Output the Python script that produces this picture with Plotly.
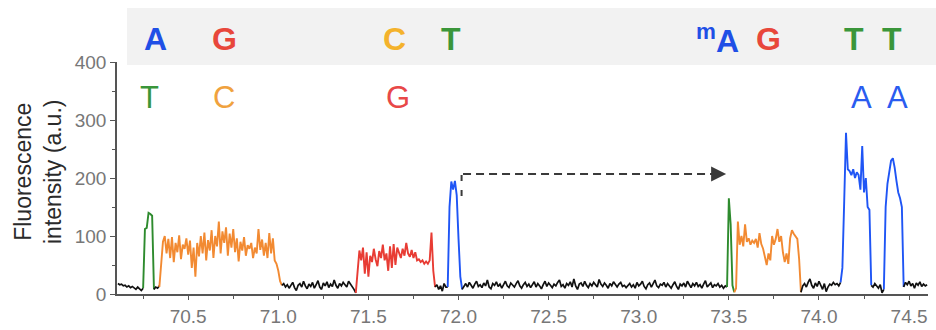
import plotly.graph_objects as go

DT = 0.01  # sampling interval of the trace (s)

# ---- trace segments: (start time, values) ----
black1_t0 = 70.11
black1 = [18, 16, 17, 14, 15, 12, 14, 11, 13, 10, 8, 12, 9, 6, 10]
green1_t0 = 70.25
green1 = [10, 112, 114, 140, 138, 135, 8]
black2_t0 = 70.31
black2 = [8, 12, 10, 14]
orange1_t0 = 70.34
orange1 = [12, 45, 90, 100, 70, 95, 62, 98, 55, 88,
           72, 101, 60, 85, 78, 96, 68, 92, 45, 80,
           30, 88, 65, 100, 70, 106, 58, 93, 75, 110,
           62, 100, 82, 125, 70, 108, 88, 115, 66, 104,
           80, 112, 72, 96, 56, 90, 75, 98, 66, 84,
           78, 88, 62, 80, 70, 112, 76, 94, 66, 88,
           62, 105, 70, 96, 58, 52, 40, 22, 15]
black3_t0 = 71.02
black3 = [15, 18, 12, 16, 10, 14, 20, 11, 6, 15,
          18, 12, 22, 14, 9, 17, 13, 20, 10, 16,
          23, 12, 8, 19, 14, 21, 11, 17, 13, 24,
          15, 10, 18, 14, 20, 16, 12, 22, 18, 14,
          8, 2]
red1_t0 = 71.43
red1 = [2, 45, 75, 58, 80, 35, 72, 30, 66, 55,
        78, 60, 48, 74, 62, 85, 58, 70, 40, 82,
        45, 86, 50, 80, 72, 62, 78, 66, 88, 70,
        64, 76, 62, 72, 58, 60, 55, 58, 52, 56,
        52, 58, 106, 40, 12]
black4_t0 = 71.87
black4 = [12, 16, 8, 14, 5, 18, 12, 12]
blue1_t0 = 71.94
blue1 = [12, 150, 194, 180, 195, 170, 95, 30, 8]
black5_t0 = 72.02
black5 = [8, 14, 18, 12, 20, 15, 10, 17, 22, 13,
          16, 11, 19, 14, 24, 12, 9, 18, 15, 21,
          13, 17, 10, 16, 22, 14, 11, 19, 15, 12,
          18, 23, 14, 10, 16, 20, 13, 17, 11, 15,
          21, 12, 18, 14, 9, 16, 22, 13, 19, 15,
          11, 17, 14, 20, 24, 13, 16, 10, 18, 15,
          21, 12, 26, 14, 8, 17, 19, 13, 22, 15,
          11, 18, 14, 20, 16, 12, 25, 17, 13, 19,
          15, 10, 18, 14, 21, 16, 12, 17, 20, 13,
          15, 11, 14, 18, 12, 16, 10, 20, 14, 17,
          22, 13, 9, 16, 19, 12, 18, 24, 14, 11,
          17, 15, 20, 12, 18, 14, 10, 16, 21, 13,
          8, 17, 14, 19, 12, 22, 15, 11, 18, 14,
          20, 13, 16, 10, 17, 23, 12, 15, 19, 11,
          16, 14, 18, 12, 15, 10, 14, 12]
green2_t0 = 73.49
green2 = [12, 165, 120, 15, 3]
orange2_t0 = 73.53
orange2 = [3, 10, 125, 85, 100, 82, 120, 90, 96, 85,
           92, 88, 95, 80, 105, 86, 78, 62, 50, 70,
           58, 100, 85, 95, 112, 90, 100, 72, 55, 70,
           52, 96, 110, 104, 100, 95, 60, 3]
black6_t0 = 73.90
black6 = [3, 14, 18, 12, 20, 26, 15, 10, 19, 13,
          22, 14, 8, 18, 4, 12, 17, 15, 20, 16,
          18, 14, 20]
blue2_t0 = 74.12
blue2 = [20, 45, 160, 278, 215, 212, 205, 215, 200, 210,
         205, 180, 255, 175, 200, 150, 145, 15]
black7_t0 = 74.29
black7 = [15, 12, 18, 14, 10, 16, 2, 8]
blue3_t0 = 74.36
blue3 = [8, 150, 190, 215, 230, 234, 218, 195, 175, 165, 150, 12]
black8_t0 = 74.47
black8 = [12, 20, 16, 22, 14, 18, 10, 19, 15, 21, 13, 17, 14, 16]

# ---- base-call labels ----
top_labels = ["A", "G", "C", "T", "<sup>m</sup>A", "G", "T", "T"]
top_times = [70.321, 70.699, 71.642, 71.958, 73.438, 73.718, 74.195, 74.406]
top_colors = ["#1f4fe6", "#e8473b", "#f4b22c", "#3a963a", "#1f4fe6", "#e8473b", "#3a963a", "#3a963a"]
bottom_labels = ["T", "C", "G", "A", "A"]
bottom_times = [70.283, 70.699, 71.664, 74.234, 74.434]
bottom_colors = ["#3a963a", "#f0a23e", "#e84848", "#2a5cf0", "#2a5cf0"]

# dwell arrow (start time, end time, level)
arrow_t = [72.017, 73.485]
arrow_level = 207

COL = {"black": "#111111", "green": "#2e8b2e", "orange": "#f28a32",
       "red": "#e83c34", "blue": "#1f55f5"}

segments = [
    ("black", black1_t0, black1), ("green", green1_t0, green1),
    ("black", black2_t0, black2), ("orange", orange1_t0, orange1),
    ("black", black3_t0, black3), ("red", red1_t0, red1),
    ("black", black4_t0, black4), ("blue", blue1_t0, blue1),
    ("black", black5_t0, black5), ("green", green2_t0, green2),
    ("orange", orange2_t0, orange2), ("black", black6_t0, black6),
    ("blue", blue2_t0, blue2), ("black", black7_t0, black7),
    ("blue", blue3_t0, blue3), ("black", black8_t0, black8),
]

fig = go.Figure()
for name, t0, vals in segments:
    xs = [round(t0 + i * DT, 4) for i in range(len(vals))]
    fig.add_trace(go.Scatter(
        x=xs, y=vals, mode="lines",
        line=dict(color=COL[name], width=1.9 if name != "black" else 1.7),
        hoverinfo="skip", showlegend=False))

PX_L, PX_R, PX_T, PX_B = 117, 8, 62, 36
W, H = 936, 330
pw = W - PX_L - PX_R
ph = H - PX_T - PX_B


def py(pixel_y):
    return (H - PX_B - pixel_y) / ph


def px(pixel_x):
    return (pixel_x - PX_L) / pw


shapes = [
    dict(type="rect", xref="paper", yref="paper", x0=px(127), x1=px(940),
         y0=py(65), y1=py(8), fillcolor="#f2f2f2", line=dict(width=0), layer="below"),
    dict(type="line", xref="x", yref="y", x0=arrow_t[0] + 0.008, x1=arrow_t[1] - 0.075,
         y0=arrow_level, y1=arrow_level, line=dict(color="#3a3a3a", width=2, dash="8px,5px")),
    dict(type="line", xref="x", yref="y", x0=arrow_t[0], x1=arrow_t[0],
         y0=arrow_level - 38, y1=arrow_level + 12, line=dict(color="#3a3a3a", width=2, dash="6px,9px")),
]

annotations = []
for lab, t, c in zip(top_labels, top_times, top_colors):
    annotations.append(dict(x=t, y=py(39), xref="x", yref="paper", text="<b>%s</b>" % lab,
                            showarrow=False, font=dict(size=32, color=c, family="Liberation Sans, Arial"),
                            xanchor="center", yanchor="middle"))
for lab, t, c in zip(bottom_labels, bottom_times, bottom_colors):
    annotations.append(dict(x=t, y=py(97), xref="x", yref="paper", text=lab,
                            showarrow=False, font=dict(size=31, color=c, family="Liberation Sans, Arial"),
                            xanchor="center", yanchor="middle"))
annotations.append(dict(x=arrow_t[1], y=arrow_level, ax=arrow_t[1] - 0.05, ay=arrow_level,
                        xref="x", yref="y", axref="x", ayref="y", text="", showarrow=True,
                        arrowhead=2, arrowsize=1.5, arrowwidth=2, arrowcolor="#3a3a3a", standoff=0))
annotations.append(dict(x=px(38), y=py(172), xref="paper", yref="paper",
                        text="Fluorescence<br>intensity (a.u.)", textangle=-90, showarrow=False,
                        font=dict(size=23, color="#2a2a2a", family="Liberation Sans, Arial"),
                        xanchor="center", yanchor="middle"))

fig.update_layout(
    width=W, height=H, margin=dict(l=PX_L, r=PX_R, t=PX_T, b=PX_B),
    plot_bgcolor="white", paper_bgcolor="white", showlegend=False,
    font=dict(family="Liberation Sans, Arial"),
    shapes=shapes, annotations=annotations,
    xaxis=dict(range=[70.105, 74.605], tick0=70.5, dtick=0.5, tickformat=".1f",
               showline=True, linecolor="#555555", linewidth=1.5, ticks="outside",
               ticklen=4, tickwidth=1.2, tickcolor="#555555", showgrid=False, zeroline=False,
               automargin=False, tickfont=dict(size=19, color="#777777"),
               minor=dict(ticks="outside", ticklen=3, dtick=0.25, tick0=70.25, tickcolor="#555555")),
    yaxis=dict(range=[0, 400], tick0=0, dtick=100, showline=True, linecolor="#555555",
               linewidth=1.5, ticks="outside", ticklen=5, tickwidth=1.2, tickcolor="#555555",
               showgrid=False, zeroline=False, automargin=False, tickfont=dict(size=19, color="#777777"),
               minor=dict(ticks="outside", ticklen=3, dtick=50, tickcolor="#555555")),
)

fig.write_html("out.html", config={"displayModeBar": False},
               post_script="document.body.style.margin='0';")
